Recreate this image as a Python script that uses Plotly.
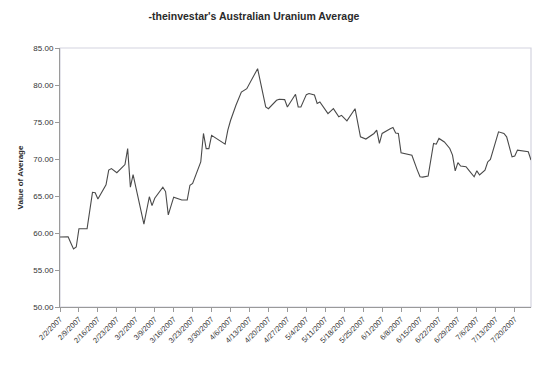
import plotly.graph_objects as go

dates = [
    "2007-02-02", "2007-02-05", "2007-02-06", "2007-02-07", "2007-02-08", "2007-02-09",
    "2007-02-12", "2007-02-14", "2007-02-15", "2007-02-16", "2007-02-19", "2007-02-20",
    "2007-02-21", "2007-02-23", "2007-02-26", "2007-02-27", "2007-02-28", "2007-03-01",
    "2007-03-05", "2007-03-07", "2007-03-08", "2007-03-09", "2007-03-12", "2007-03-13",
    "2007-03-14", "2007-03-16", "2007-03-19", "2007-03-21", "2007-03-22", "2007-03-23",
    "2007-03-26", "2007-03-27", "2007-03-28", "2007-03-29", "2007-03-30", "2007-04-04",
    "2007-04-05", "2007-04-06", "2007-04-08", "2007-04-10", "2007-04-12", "2007-04-16",
    "2007-04-19", "2007-04-20", "2007-04-23", "2007-04-24", "2007-04-26", "2007-04-27",
    "2007-04-30", "2007-05-01", "2007-05-02", "2007-05-04", "2007-05-05", "2007-05-07",
    "2007-05-08", "2007-05-09", "2007-05-12", "2007-05-14", "2007-05-16", "2007-05-17",
    "2007-05-19", "2007-05-21", "2007-05-22", "2007-05-24", "2007-05-26", "2007-05-29",
    "2007-05-30", "2007-05-31", "2007-06-01", "2007-06-04", "2007-06-05", "2007-06-06",
    "2007-06-07", "2007-06-08", "2007-06-12", "2007-06-14", "2007-06-15", "2007-06-16",
    "2007-06-18", "2007-06-20", "2007-06-21", "2007-06-22", "2007-06-24", "2007-06-26",
    "2007-06-27", "2007-06-28", "2007-06-29", "2007-06-30", "2007-07-02", "2007-07-03",
    "2007-07-05", "2007-07-06", "2007-07-07", "2007-07-09", "2007-07-10", "2007-07-11",
    "2007-07-14", "2007-07-16", "2007-07-17", "2007-07-19", "2007-07-20", "2007-07-21",
    "2007-07-24", "2007-07-25", "2007-07-26",
]

values = [
    59.45, 59.50, 58.65, 57.84, 58.10, 60.57,
    60.57, 65.50, 65.45, 64.60, 66.50, 68.50,
    68.70, 68.15, 69.25, 71.40, 66.20, 67.90,
    61.20, 64.90, 63.70, 64.70, 66.20, 65.60,
    62.45, 64.85, 64.45, 64.45, 66.45, 66.70,
    69.60, 73.45, 71.40, 71.40, 73.20, 72.00,
    73.90, 75.20, 77.26, 79.05, 79.50, 82.20,
    77.03, 76.80, 77.93, 78.07, 78.03, 77.03,
    78.74, 77.03, 77.03, 78.70, 78.84, 78.65,
    77.50, 77.70, 76.14, 76.80, 75.70, 75.90,
    75.15, 76.20, 76.80, 73.00, 72.70, 73.45,
    73.90, 72.10, 73.45, 74.10, 74.25, 73.50,
    73.45, 70.84, 70.50, 68.50, 67.60, 67.55,
    67.70, 72.10, 72.00, 72.78, 72.30, 71.43,
    70.53, 68.40, 69.50, 69.05, 68.96, 68.50,
    67.60, 68.40, 67.84, 68.50, 69.60, 69.95,
    73.67, 73.45, 73.00, 70.30, 70.40, 71.20,
    70.98, 70.98, 69.86,
]

tick_dates = [
    "2007-02-02", "2007-02-09", "2007-02-16", "2007-02-23", "2007-03-02", "2007-03-09",
    "2007-03-16", "2007-03-23", "2007-03-30", "2007-04-06", "2007-04-13", "2007-04-20",
    "2007-04-27", "2007-05-04", "2007-05-11", "2007-05-18", "2007-05-25", "2007-06-01",
    "2007-06-08", "2007-06-15", "2007-06-22", "2007-06-29", "2007-07-06", "2007-07-13",
    "2007-07-20",
]
tick_labels = [
    "2/2/2007", "2/9/2007", "2/16/2007", "2/23/2007", "3/2/2007", "3/9/2007",
    "3/16/2007", "3/23/2007", "3/30/2007", "4/6/2007", "4/13/2007", "4/20/2007",
    "4/27/2007", "5/4/2007", "5/11/2007", "5/18/2007", "5/25/2007", "6/1/2007",
    "6/8/2007", "6/15/2007", "6/22/2007", "6/29/2007", "7/6/2007", "7/13/2007",
    "7/20/2007",
]

title_text = "-theinvestar's Australian Uranium Average"
y_title = "Value of Average"

fig = go.Figure()
fig.add_trace(go.Scatter(
    x=dates, y=values, mode="lines",
    line=dict(color="#4a4a4a", width=1.1),
    hoverinfo="skip", showlegend=False,
))

fig.update_layout(
    width=559, height=365,
    margin=dict(l=60, r=28, t=48, b=58),
    paper_bgcolor="white", plot_bgcolor="white",
    font=dict(family="Liberation Sans, Arial, sans-serif", color="#333333"),
    title=dict(
        text="<b>" + title_text + "</b>",
        x=254 / 559, xanchor="center", xref="container",
        y=1 - 16 / 365, yanchor="middle", yref="container",
        font=dict(size=10.5, color="#2a2a2a"),
    ),
    shapes=[dict(
        type="rect", xref="paper", yref="paper", x0=0, x1=1, y0=0, y1=1,
        line=dict(color="#d4d4e0", width=1.2), layer="below",
    )],
)

fig.update_xaxes(
    type="date",
    range=["2007-02-02", "2007-07-26"],
    tickmode="array", tickvals=tick_dates, ticktext=tick_labels,
    tickangle=-45, tickfont=dict(size=7.5, color="#333333"),
    showgrid=False, zeroline=False,
    showline=True, linecolor="#9a9a9a", linewidth=1,
    ticks="outside", ticklen=4, tickcolor="#9a9a9a",
)
fig.update_yaxes(
    range=[50, 85], tick0=50, dtick=5, tickformat=".2f",
    tickfont=dict(size=8, color="#333333"),
    showgrid=False, zeroline=False,
    showline=True, linecolor="#9a9a9a", linewidth=1,
    ticks="outside", ticklen=4, tickcolor="#9a9a9a",
    title=dict(text="<b>" + y_title + "</b>", font=dict(size=8, color="#2a2a2a"), standoff=8),
)

fig.write_html("out.html")
